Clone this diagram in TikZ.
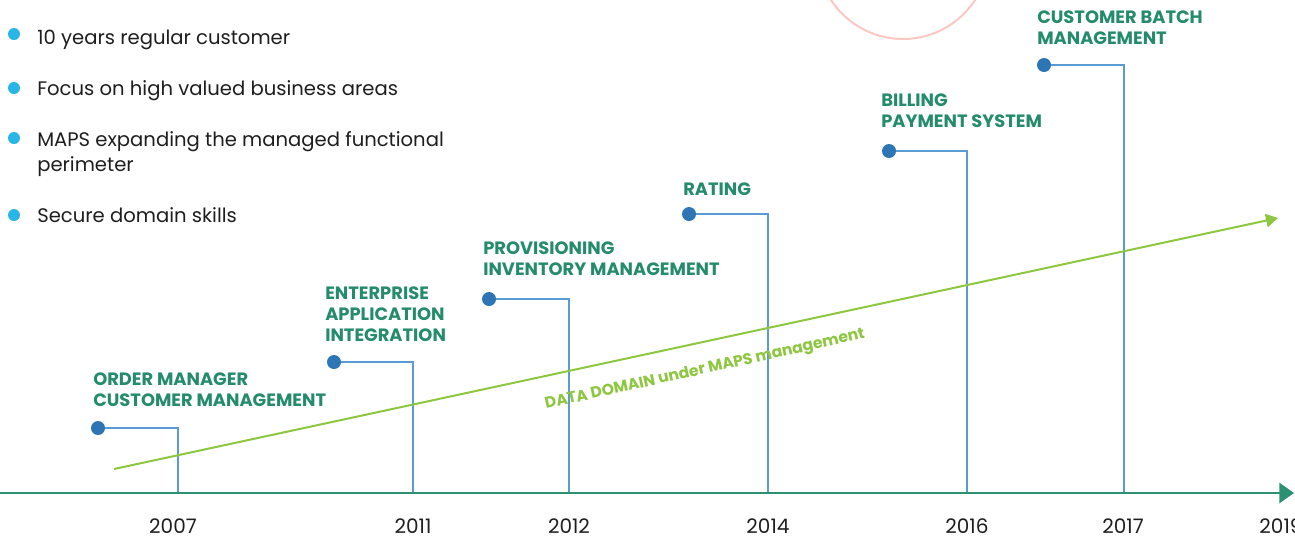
\documentclass[tikz,border=0pt]{standalone}
\usepackage{fontspec}
\setmainfont{Poppins}
\usetikzlibrary{arrows.meta,positioning}
\definecolor{lblgreen}{RGB}{36,140,108}
\definecolor{axisgreen}{RGB}{42,145,115}
\definecolor{trendgreen}{RGB}{141,198,63}
\definecolor{dotblue}{RGB}{46,117,182}
\definecolor{lineblue}{RGB}{91,155,213}
\definecolor{bulcyan}{RGB}{41,182,230}
\definecolor{pinkring}{RGB}{250,200,195}
\definecolor{txtblack}{RGB}{30,30,30}

\begin{document}
\begin{tikzpicture}[
  x=0.75pt, y=-0.75pt,
  mdot/.style={circle,fill=dotblue,inner sep=0pt,minimum size=10.5pt},
  conn/.style={draw=lineblue,line width=1.1pt},
  lbl/.style={anchor=north west,inner sep=0pt,text=lblgreen,align=left,
    font=\fontsize{13.4}{15.75}\selectfont\bfseries},
  bul/.style={circle,fill=bulcyan,inner sep=0pt,minimum size=9pt},
  btxt/.style={anchor=base west,inner sep=0pt,text=txtblack,align=left,
    font=\fontsize{14.7}{18.75}\selectfont},
  yr/.style={inner sep=0pt,text=txtblack,font=\fontsize{15}{17}\selectfont},
]
\useasboundingbox (0,0) rectangle (1295,537);

\draw [pinkring, line width=1.5pt] (903,-47) circle [radius=86];

\node [bul] (b1) at (14,34) {};
\node [btxt] (s1) at (37,44) {10 years regular customer};
\node [bul] (b2) at (14,88) {};
\node [btxt] (s2) at (37,95) {Focus on high valued business areas};
\node [bul] (b3) at (14,138) {};
\node [btxt] (s3) at (37,171) {MAPS expanding the managed functional\\perimeter};
\node [bul] (b4) at (14,215) {};
\node [btxt] (s4) at (37,222) {Secure domain skills};

\coordinate (t1) at (178,493);
\coordinate (t2) at (413,493);
\coordinate (t3) at (569,493);
\coordinate (t4) at (768,493);
\coordinate (t5) at (967,493);
\coordinate (t6) at (1124,493);

\node [mdot] (m1) at (98,428) {};
\node [mdot] (m2) at (334,362) {};
\node [mdot] (m3) at (489,299) {};
\node [mdot] (m4) at (689,214) {};
\node [mdot] (m5) at (889,151) {};
\node [mdot] (m6) at (1044,65) {};

\draw [conn] (m1) -| (t1);
\draw [conn] (m2) -| (t2);
\draw [conn] (m3) -| (t3);
\draw [conn] (m4) -| (t4);
\draw [conn] (m5) -| (t5);
\draw [conn] (m6) -| (t6);

\node [lbl] (l1) at (93,372) {ORDER MANAGER\\CUSTOMER MANAGEMENT};
\node [lbl] (l2) at (325,287) {ENTERPRISE\\APPLICATION\\INTEGRATION};
\node [lbl] (l3) at (483,242) {PROVISIONING\\INVENTORY MANAGEMENT};
\node [lbl] (l4) at (683,183) {RATING};
\node [lbl] (l5) at (881,94) {BILLING\\PAYMENT SYSTEM};
\node [lbl] (l6) at (1037,11) {CUSTOMER BATCH\\MANAGEMENT};

\coordinate (g0) at (114,469);
\coordinate (g1) at (1278,218);
\draw [trendgreen, line width=1.5pt, -{Triangle[length=9pt,width=10pt]}] (g0) -- (g1);
\node [text=trendgreen, rotate=12.5, inner sep=0pt,
  font=\fontsize{11.7}{13}\selectfont\bfseries] (tl) at (705,370) {DATA DOMAIN under MAPS management};

\coordinate (a0) at (0,493);
\coordinate (a1) at (1294,493);
\draw [axisgreen, line width=2.2pt, -{Triangle[length=11pt,width=15pt]}] (a0) -- (a1);

\node [yr] (y1) at (173,526) {2007};
\node [yr] (y2) at (413,526) {2011};
\node [yr] (y3) at (569,526) {2012};
\node [yr] (y4) at (768,526) {2014};
\node [yr] (y5) at (967,526) {2016};
\node [yr] (y6) at (1123,526) {2017};
\node [yr] (y7) at (1281,526) {2019};

\end{tikzpicture}
\end{document}
